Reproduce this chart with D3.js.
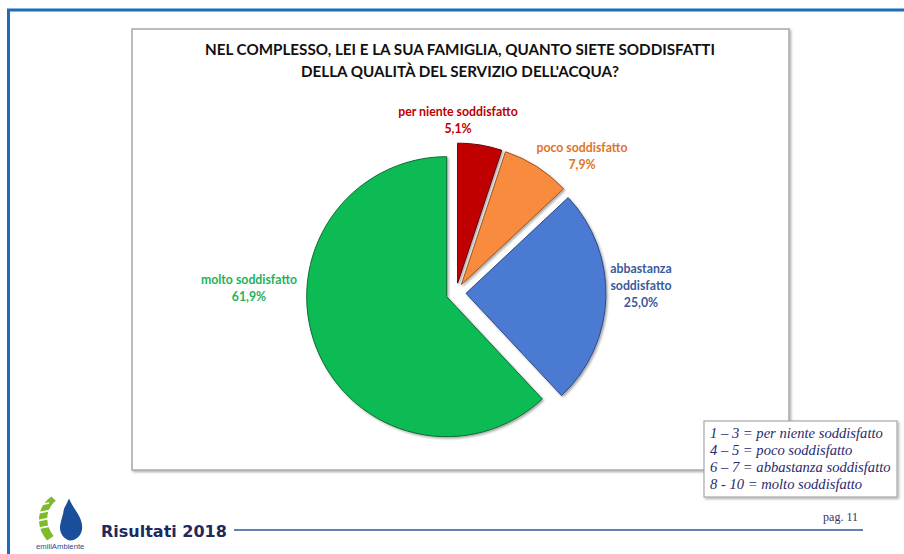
<!DOCTYPE html>
<html><head><meta charset="utf-8">
<script src="https://cdn.jsdelivr.net/npm/d3@7"></script>
<style>html,body{margin:0;padding:0;background:#fff;}svg{display:block;}</style>
</head><body>
<svg id="c" width="904" height="554"></svg>
<script>
const categories = ["per niente soddisfatto", "poco soddisfatto", "abbastanza soddisfatto", "molto soddisfatto"];
const values = [5.1, 7.9, 25.0, 61.9];
const sliceColors = ["#C00000", "#F88B3E", "#4C7AD3", "#08BB55"];
const strokeColors = ["#6E0000", "#9A5420", "#2E4A86", "#0B6B33"];
const labelColors = ["#C00000", "#E07428", "#3A5A9C", "#1DB35B"];
const labelLines = [["per niente soddisfatto", "5,1%"], ["poco soddisfatto", "7,9%"], ["abbastanza", "soddisfatto", "25,0%"], ["molto soddisfatto", "61,9%"]];
const labelPos = [[458, 116], [582, 152], [641, 273], [249, 284]];
const titleLines = ["NEL COMPLESSO, LEI E LA SUA FAMIGLIA, QUANTO SIETE SODDISFATTI", "DELLA QUALITÀ DEL SERVIZIO DELL'ACQUA?"];
const legendLines = ["1 – 3 = per niente soddisfatto", "4 – 5 = poco soddisfatto", "6 – 7 = abbastanza soddisfatto", "8 - 10 = molto soddisfatto"];

const svg = d3.select("#c");
const defs = svg.append("defs");
const sh = defs.append("filter").attr("id", "sh").attr("x", "-20%").attr("y", "-20%").attr("width", "140%").attr("height", "140%");
sh.append("feDropShadow").attr("dx", 1.5).attr("dy", 1.5).attr("stdDeviation", 1.2).attr("flood-color", "#000").attr("flood-opacity", 0.35);
const bsh = defs.append("filter").attr("id", "bsh").attr("x", "-5%").attr("y", "-5%").attr("width", "110%").attr("height", "110%");
bsh.append("feDropShadow").attr("dx", 1.5).attr("dy", 1.5).attr("stdDeviation", 1).attr("flood-color", "#000").attr("flood-opacity", 0.3);

// outer blue frame
svg.append("line").attr("x1", 7).attr("x2", 904).attr("y1", 10).attr("y2", 10).attr("stroke", "#1A6DB8").attr("stroke-width", 3);
svg.append("line").attr("x1", 8.5).attr("x2", 8.5).attr("y1", 9).attr("y2", 554).attr("stroke", "#1A6DB8").attr("stroke-width", 3);

// chart box
svg.append("rect").attr("x", 132).attr("y", 29).attr("width", 657).attr("height", 441)
  .attr("fill", "#fff").attr("stroke", "#A8A8A8").attr("stroke-width", 1.5).attr("filter", "url(#bsh)");

// title
svg.append("g").selectAll("text").data(titleLines).join("text")
  .attr("x", 460).attr("y", (d, i) => 55 + i * 22)
  .attr("text-anchor", "middle").attr("font-family", "Lato, sans-serif").attr("font-weight", "bold")
  .attr("font-size", 15.2).attr("fill", "#111").text(d => d);

// pie
const cx = 456, cy = 293, r = 140, explode = 10;
const pie = d3.pie().sort(null).value(d => d)(values);
const arc = d3.arc().innerRadius(0).outerRadius(r);
const g = svg.append("g").attr("transform", `translate(${cx},${cy})`);
g.selectAll("path").data(pie).join("path")
  .attr("d", arc)
  .attr("transform", d => {
    const a = (d.startAngle + d.endAngle) / 2;
    return `translate(${explode * Math.sin(a)},${-explode * Math.cos(a)})`;
  })
  .attr("fill", (d, i) => sliceColors[i])
  .attr("stroke", (d, i) => strokeColors[i]).attr("stroke-width", 1)
  .attr("filter", "url(#sh)");

// labels
labelLines.forEach((lines, i) => {
  svg.append("text").attr("x", labelPos[i][0]).attr("y", labelPos[i][1])
    .attr("text-anchor", "middle").attr("font-family", "Lato, sans-serif").attr("font-weight", "bold")
    .attr("font-size", 12.3).attr("fill", labelColors[i])
    .selectAll("tspan").data(lines).join("tspan")
    .attr("x", labelPos[i][0]).attr("dy", (d, j) => j === 0 ? 0 : 17).text(d => d);
});

// legend box
svg.append("rect").attr("x", 704).attr("y", 421).attr("width", 193).attr("height", 76)
  .attr("fill", "#fff").attr("stroke", "#A8A8A8").attr("stroke-width", 1.2).attr("filter", "url(#bsh)");
svg.append("g").selectAll("text").data(legendLines).join("text")
  .attr("x", 710).attr("y", (d, i) => 438 + i * 17)
  .attr("font-family", "'Liberation Serif', 'Times New Roman', serif").attr("font-style", "italic")
  .attr("font-size", 14.6).attr("fill", "#2A2A6E").text(d => d);

// footer
svg.append("text").attr("x", 101).attr("y", 537).attr("font-family", "'DejaVu Sans', Arial, sans-serif")
  .attr("font-weight", "bold").attr("font-size", 16).attr("fill", "#1E2A5E").text("Risultati 2018");
svg.append("line").attr("x1", 234).attr("x2", 863).attr("y1", 530).attr("y2", 530).attr("stroke", "#2A5A96").attr("stroke-width", 1.5);
svg.append("text").attr("x", 858).attr("y", 521).attr("text-anchor", "end")
  .attr("font-family", "'Liberation Serif', 'Times New Roman', serif").attr("font-size", 12).attr("fill", "#333366").text("pag. 11");

// logo
const logo = svg.append("g").attr("transform", "translate(36,492) scale(1.1)");
logo.append("path").attr("d", "M14,4 C2,12 -2,30 10,44 L16,40 C8,30 8,16 18,8 Z").attr("fill", "#7DBB2A");
[12, 19, 26, 33].forEach(y => logo.append("line").attr("x1", 2).attr("x2", 12).attr("y1", y).attr("y2", y - 2)
  .attr("stroke", "#fff").attr("stroke-width", 1.6));
logo.append("path").attr("d", "M30,6 C26,16 20,22 20,32 C20,40 26,44 31,44 C37,44 42,39 42,32 C42,22 34,16 30,6 Z").attr("fill", "#1A4E9A");
logo.append("path").attr("d", "M25,14 C20,22 16,30 20,40 C23,44 28,45 30,44 C24,42 21,36 22,30 C23,24 26,18 25,14 Z").attr("fill", "#fff");
logo.append("text").attr("x", 22).attr("y", 52).attr("text-anchor", "middle").attr("font-family", "Arial, sans-serif")
  .attr("font-size", 7).attr("fill", "#1A4E9A").text("emiliAmbiente");
</script>
</body></html>
